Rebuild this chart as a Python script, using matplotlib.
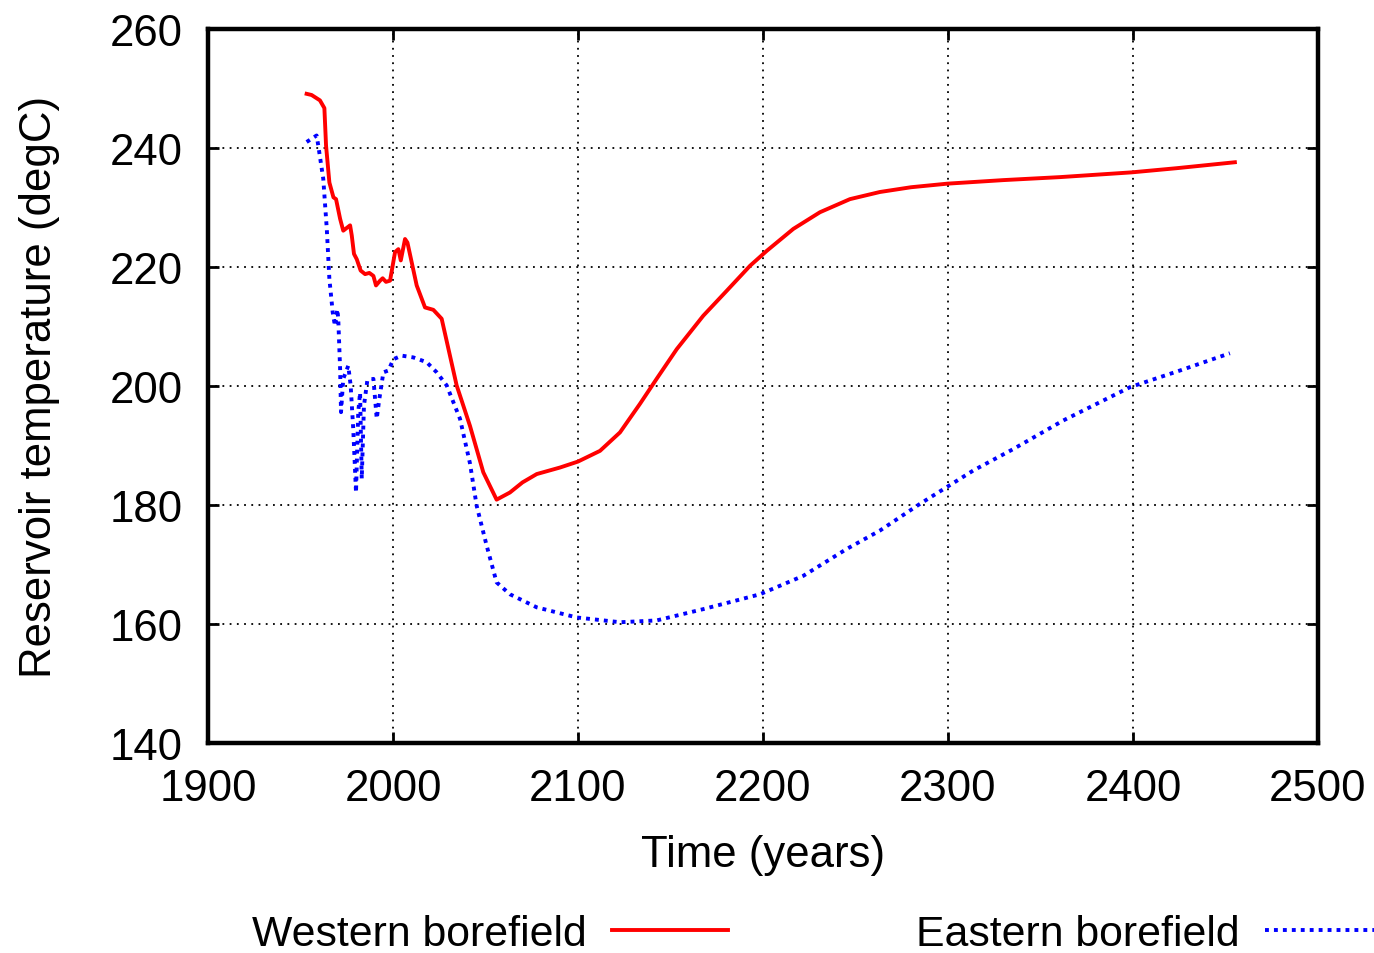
import matplotlib
matplotlib.use("Agg")
from matplotlib import pyplot as plt

plt.rcParams["font.family"] = ["Liberation Sans", "DejaVu Sans"]

# Western borefield (red, solid)
west_year = [1953.3, 1956.0, 1960.5, 1962.9, 1963.8, 1965.6, 1967.8, 1969.2, 1971.4, 1973.1,
             1976.8, 1977.7, 1978.9, 1980.4, 1982.5, 1984.9, 1987.2, 1989.4, 1990.8, 1993.0,
             1994.4, 1996.2, 1998.4, 2001.1, 2002.9, 2004.2, 2006.5, 2007.8, 2012.8, 2017.3,
             2021.8, 2026.3, 2034.4, 2041.6, 2048.8, 2056.0, 2063.2, 2070.0, 2077.7, 2090.3,
             2100.0, 2111.9, 2122.7, 2133.5, 2142.5, 2153.4, 2167.7, 2180.4, 2193.0, 2202.0,
             2216.4, 2230.8, 2247.0, 2263.2, 2280.0, 2299.6, 2330.0, 2360.5, 2399.3, 2423.6,
             2455.1]
west_temp = [249.1, 248.9, 248.0, 246.7, 240.4, 234.2, 231.7, 231.4, 228.1, 226.1,
             227.0, 225.3, 222.2, 221.3, 219.4, 218.8, 219.0, 218.5, 216.9, 217.7,
             218.1, 217.5, 217.7, 222.5, 223.0, 221.1, 224.7, 224.1, 216.9, 213.2,
             212.8, 211.3, 200.1, 193.3, 185.5, 180.9, 182.1, 183.8, 185.2, 186.3,
             187.3, 189.1, 192.2, 197.0, 201.2, 206.2, 211.8, 216.0, 220.2, 222.7,
             226.4, 229.2, 231.4, 232.6, 233.4, 234.0, 234.6, 235.1, 235.9, 236.6,
             237.6]

# Eastern borefield (blue, dotted)
east_year = [1953.3, 1958.7, 1959.6, 1962.3, 1964.2, 1965.6, 1967.4, 1968.6, 1969.9, 1970.4,
             1971.4, 1971.9, 1973.1, 1975.8, 1977.1, 1978.5, 1980.0, 1981.2, 1982.2, 1983.1,
             1984.3, 1986.1, 1989.4, 1991.2, 1992.6, 1994.8, 1997.5, 2000.2, 2004.7, 2011.0,
             2018.2, 2023.6, 2029.0, 2036.2, 2041.6, 2045.2, 2050.6, 2056.0, 2063.2, 2077.7,
             2099.3, 2122.7, 2142.5, 2167.7, 2198.4, 2221.8, 2245.2, 2263.2, 2284.9, 2299.3,
             2313.7, 2335.3, 2362.3, 2398.4, 2425.4, 2452.4]
east_temp = [241.0, 242.1, 240.4, 234.8, 226.4, 218.0, 212.4, 210.1, 212.9, 211.3,
             202.9, 195.6, 201.2, 203.4, 200.1, 192.8, 182.1, 195.6, 198.9, 184.4,
             196.7, 200.9, 201.2, 194.5, 197.8, 202.3, 202.6, 204.5, 205.1, 204.8,
             204.0, 202.3, 200.1, 194.5, 187.0, 179.9, 173.2, 167.0, 165.0, 162.8,
             161.1, 160.3, 160.6, 162.5, 165.0, 168.1, 172.6, 175.7, 180.2, 183.0,
             185.8, 189.4, 194.2, 199.8, 202.6, 205.5]

xticks = [1900, 2000, 2100, 2200, 2300, 2400, 2500]
yticks = [140, 160, 180, 200, 220, 240, 260]

fs = 31.5

fig = plt.figure(figsize=(13.74, 9.54), dpi=100)
ax = fig.add_axes([0.1514, 0.2201, 0.8078, 0.7485])

ax.plot(west_year, west_temp, color="#ff0000", lw=2.8, label="Western borefield")
ax.plot(east_year, east_temp, color="#0000ff", lw=2.8, linestyle=(0, (1.0, 1.3)),
        label="Eastern borefield")

ax.set_xlim(1900, 2500)
ax.set_ylim(140, 260)
ax.set_xticks(xticks)
ax.set_yticks(yticks)
ax.tick_params(direction="in", length=8, width=2, top=True, right=True,
               labelsize=fs, pad=18)
ax.grid(True, color="black", linestyle=(0, (1, 3)), lw=1.3)
for s in ax.spines.values():
    s.set_linewidth(3.2)

ax.set_xlabel("Time (years)", fontsize=fs, labelpad=18)
ax.set_ylabel("Reservoir temperature (degC)", fontsize=fs, labelpad=36)

fig.legend(loc="center", bbox_to_anchor=(0.594, 0.02), ncol=2, frameon=False,
           markerfirst=False, fontsize=30.8, handlelength=2.7, handletextpad=0.6,
           columnspacing=4.4, borderaxespad=0)

fig.savefig("out.png", dpi=100)
